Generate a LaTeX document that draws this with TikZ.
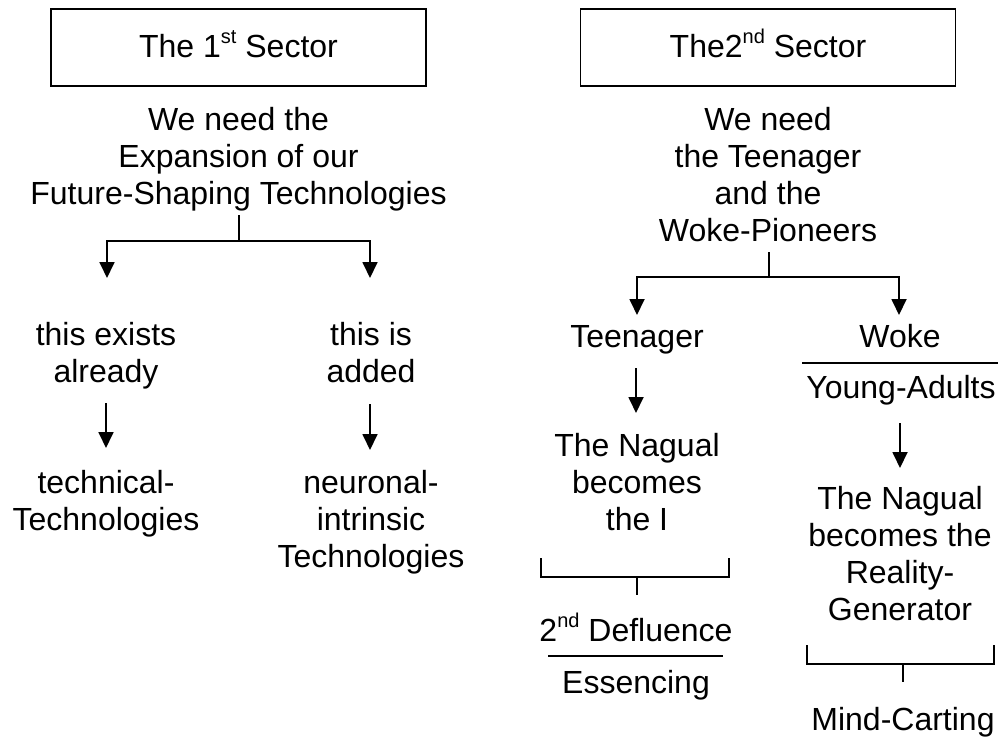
\documentclass[tikz,border=0pt]{standalone}
\usepackage{fontspec}
\setmainfont{Liberation Sans}
\usetikzlibrary{arrows.meta,calc}
\newcommand{\supx}[1]{\raisebox{0.42em}{\fontsize{20}{20}\selectfont #1}}
\begin{document}
\begin{tikzpicture}[x=1pt,y=-1pt,
  txt/.style={font=\fontsize{32}{37}\selectfont, align=center, anchor=base, inner sep=0pt},
  titlebox/.style={draw, line width=1.8pt, minimum width=375pt, minimum height=77pt,
    font=\fontsize{32}{37}\selectfont, text height=23pt, text depth=4pt, inner sep=0pt},
  ln/.style={line width=1.8pt},
  arr/.style={line width=1.8pt, -{Triangle[width=15pt,length=16pt]}}]
\useasboundingbox (0,0) rectangle (1000,736);

% titles
\node[titlebox] (s1) at (238.5,47.5) {The 1\supx{st} Sector};
\node[titlebox] (s2) at (768,47.5) {The2\supx{nd} Sector};

% left sector (node base = baseline of the last line)
\node[txt] (t1) at (238.5,204) {We need the\\Expansion of our\\Future-Shaping Technologies};
\node[txt] (a1) at (106,382) {this exists\\already};
\node[txt] (b1) at (371,382) {this is\\added};
\node[txt] (a2) at (106,530) {technical-\\Technologies};
\node[txt] (b2) at (371,567) {neuronal-\\intrinsic\\Technologies};

\coordinate (j1) at ($(t1.base)+(0.5,37)$);
\draw[ln] ($(t1.base)+(0.5,11)$) -- (j1);
\draw[arr] (j1) -| ($(a1.base)+(1,-104)$);
\draw[arr] (j1) -| ($(b1.base)+(-1,-104)$);
\draw[arr] ($(a1.base)+(0,21)$) -- ($(a2.base)+(0,-82)$);
\draw[arr] ($(b1.base)+(-1,22)$) -- ($(b2.base)+(-1,-117)$);

% right sector
\node[txt] (t2) at (768,241) {We need\\the Teenager\\and the\\Woke-Pioneers};
\node[txt] (c1) at (637,347) {Teenager};
\node[txt] (d1) at (900,347) {Woke};
\node[txt] (d2) at (901,398) {Young-Adults};
\node[txt] (c2) at (637,530) {The Nagual\\becomes\\the I};
\node[txt] (d3) at (900,620) {The Nagual\\becomes the\\Reality-\\Generator};
\node[txt] (c3) at (636,641) {2\supx{nd} Defluence};
\node[txt] (c4) at (636,693) {Essencing};
\node[txt] (d4) at (903,730) {Mind-Carting};

\coordinate (j2) at ($(t2.base)+(1,36)$);
\draw[ln] ($(t2.base)+(1,11)$) -- (j2);
\draw[arr] (j2) -| ($(c1.base)+(0,-32)$);
\draw[arr] (j2) -| ($(d1.base)+(-1,-32)$);

\draw[arr] ($(c1.base)+(-1,21)$) -- ($(c2.base)+(-1,-117)$);
\draw[ln] ($(d1.base)+(-98,16)$) -- ($(d1.base)+(98,16)$);
\draw[arr] ($(d2.base)+(-1,25)$) -- ($(d3.base)+(0,-152)$);

% bracket under c2
\draw[ln] ($(c2.base)+(-96,28)$) |- ($(c2.base)+(92,47)$) -- ($(c2.base)+(92,28)$);
\draw[ln] ($(c2.base)+(0,47)$) -- ($(c3.base)+(1,-46)$);
\draw[ln] ($(c3.base)+(-88,15)$) -- ($(c3.base)+(87,15)$);

% bracket under d3
\draw[ln] ($(d3.base)+(-93,25)$) |- ($(d3.base)+(94,44)$) -- ($(d3.base)+(94,25)$);
\draw[ln] ($(d3.base)+(3,44)$) -- ($(d4.base)+(0,-48)$);
\end{tikzpicture}
\end{document}
